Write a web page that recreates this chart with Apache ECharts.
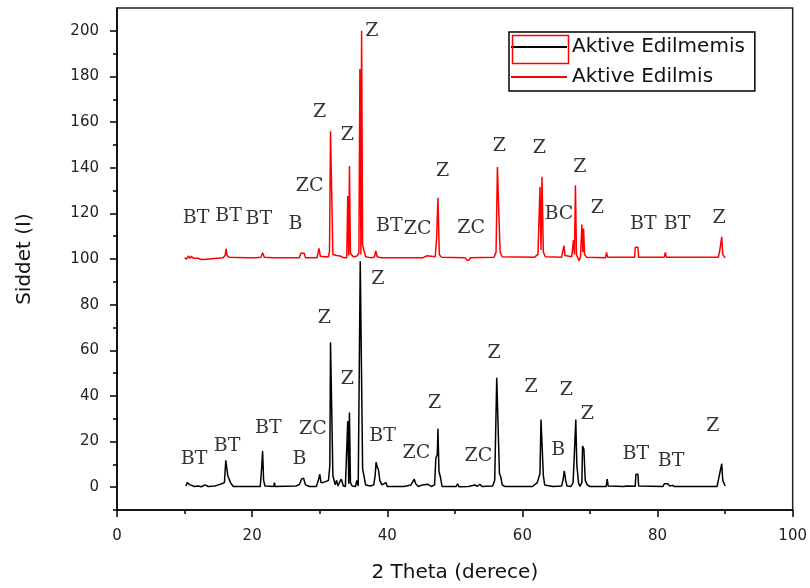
<!DOCTYPE html>
<html>
<head>
<meta charset="utf-8">
<script src="https://cdn.jsdelivr.net/npm/echarts@6/dist/echarts.min.js"></script>
<style>
html,body{margin:0;padding:0;background:#fff;}
#chart{width:810px;height:588px;}
</style>
</head>
<body>
<div id="chart"></div>
<script>
// ---- Data ----
const seriesNames = ['Aktive Edilmemis', 'Aktive Edilmis'];

// Black pattern (Aktive Edilmemis)
const blackTheta = [10.2,10.4,10.6,10.8,11.0,11.5,12.0,12.5,13.0,13.5,14.5,15.0,15.5,15.9,16.1,16.25,16.4,16.6,16.8,17.2,
  21.2,21.4,21.55,21.7,21.9,23.2,23.3,23.4,26.5,27.0,27.3,27.6,27.9,28.5,29.5,29.8,30.0,30.2,30.5,31.3,31.5,31.6,31.8,31.95,
  32.3,32.5,32.7,33.0,33.2,33.5,33.8,34.0,34.15,34.3,34.4,34.55,34.8,35.3,35.5,35.7,35.9,36.0,36.2,36.35,36.6,36.8,
  37.5,38.0,38.2,38.35,38.5,38.7,38.9,39.2,39.8,40.0,42.5,43.5,43.8,44.0,44.2,44.6,45.2,46.0,46.5,47.0,47.2,47.4,47.5,47.65,47.9,48.1,
  50.2,50.4,50.6,52.0,53.0,53.3,53.7,54.0,55.6,55.9,56.2,56.4,56.6,56.8,57.0,57.4,61.5,62.2,62.6,62.75,62.95,63.1,63.3,
  64.5,65.8,66.0,66.2,66.4,66.6,67.2,67.5,67.65,67.8,67.9,68.05,68.3,68.5,68.8,68.9,69.0,69.1,69.3,69.6,70.0,
  72.4,72.55,72.7,75.0,75.4,75.6,76.7,76.8,77.1,77.2,80.8,81.0,81.5,81.8,82.0,82.2,82.5,88.8,89.1,89.3,89.5,89.65,89.8,90.0];
const blackCounts = [0.5,2,2.5,1,1.2,0.3,0.5,0.2,1,0.3,0.5,1,1.5,2,11.8,11,5,5.5,2,0.3,
  0.3,8,15.9,3,0.5,0.3,2,0.3,0.5,1.2,3.5,4,1,0.3,0.3,3,5.7,2,2,3,9.6,63.5,63.5,5,
  1,3,0.5,2.5,3.5,0.5,0.3,1,29,1.5,32.7,2,0.5,0.3,3,0.5,1,99,99,8,8,1,
  0.5,1,5,11,9,7.5,3,1,2,0.3,0.3,1,2.5,3.5,1.5,0.3,1,1.3,0.3,1,13,14,25.6,7,4,0.3,
  0.3,1.5,0.2,0.3,1,0.3,1.3,0.3,0.5,3,48,48.2,6,4.5,1,0.3,0.3,2,6,29.7,29.7,5,1,
  0.3,0.5,3,7.1,3,0.5,0.3,2,11.8,11.8,29.7,10,2,0.3,2,18,17.5,16.6,3,1,0.3,
  0.3,3.5,0.5,0.3,0.5,0.3,0.4,5.7,5.7,0.5,0.3,1.5,1.5,0.5,0.4,0.8,0.3,0.3,4.5,4,10.3,3,2,0.5];

// Red pattern (Aktive Edilmis), offset by 100
const redTheta = [10.0,10.3,10.6,10.8,11.0,11.3,12.0,12.4,12.8,13.0,15.7,16.0,16.15,16.3,16.6,19.2,19.4,19.6,20.2,20.4,20.6,
  21.3,21.55,21.8,23.0,27.0,27.2,27.7,27.9,29.6,29.9,30.1,30.8,31.3,31.45,31.6,31.8,31.95,32.5,33.0,33.6,34.0,34.15,34.3,34.4,34.55,
  34.9,35.2,35.5,35.8,35.95,36.1,36.2,36.35,36.6,36.8,37.5,38.1,38.3,38.5,39.0,45.3,45.5,45.9,46.1,47.1,47.3,47.5,47.7,48.0,
  51.5,51.8,52.1,52.3,55.8,56.1,56.3,56.5,56.7,57.0,61.8,62.3,62.6,62.75,62.9,63.1,63.4,65.8,66.0,66.15,66.3,
  67.3,67.55,67.7,67.85,68.0,68.2,68.4,68.6,68.8,68.95,69.05,69.2,69.5,72.3,72.45,72.6,76.6,76.7,77.1,77.2,
  81.0,81.15,81.3,89.0,89.2,89.35,89.5,89.65,89.85,90.0];
const redCounts = [100.5,100,101.3,100.3,101.2,100.3,100.3,99.8,99.8,100.5,100.5,101.5,104.5,101.5,100.8,100.6,99.8,100.6,100.6,99.8,100.6,
  100.8,102.7,100.8,100.6,100.6,102.5,102.5,100.6,100.6,104.6,101.2,101,101,103.5,156,156,102,101.5,101.3,100.5,100.5,127.6,101.5,140.7,102.5,
  101.2,101,101.3,102.5,183.3,102,200,106,105.8,101,100.6,100.8,103.5,101,100.6,100.6,101.4,101.4,100.6,101,109,126.8,102,100.8,
  100.6,99.5,99.5,100.6,100.8,103,140.3,140.7,103,101,100.8,102,131.6,104,136,103,101,100.8,101.5,105.8,101.5,
  101,108.3,102,132.3,102,100.5,99.2,101,115.1,103,113.4,102,100.8,100.6,102.9,100.8,100.8,105.1,105.1,100.8,
  100.8,102.9,100.8,100.8,103.6,103.6,109.7,102,101.5,100.5];

// Phase annotations
const blackLabelText = ['BT','BT','BT','B','ZC','Z','Z','Z','BT','ZC','Z','ZC','Z','Z','Z','B','Z','BT','BT','Z'];
const blackLabelX    = [11.4,16.3,22.4,27.0,29.0,30.7,34.1,38.6,39.3,44.3,47.0,53.5,55.8,61.3,66.5,65.3,69.6,76.8,82.0,88.2];
const blackLabelY    = [12.2,18.1,26.0,12.4,25.3,74.0,47.4,91.0,22.5,15.1,36.9,13.8,58.7,43.9,42.6,16.4,32.1,14.4,11.6,26.9];

const redLabelText = ['BT','BT','BT','B','ZC','Z','Z','Z','BT','ZC','ZC','Z','Z','Z','BC','Z','Z','BT','BT','Z'];
const redLabelX    = [11.7,16.5,21.0,26.4,28.5,30.0,34.1,37.7,40.3,44.5,52.4,48.2,56.6,62.5,65.4,68.5,71.1,77.9,82.9,89.1];
const redLabelY    = [117.9,118.8,117.5,115.3,131.9,164.2,154.4,200.0,114.4,113.1,113.4,138.6,149.5,148.7,119.7,140.2,122.5,115.5,115.5,117.9];

const xTickLabels = [0, 20, 40, 60, 80, 100];
const yTickLabels = [0, 20, 40, 60, 80, 100, 120, 140, 160, 180, 200];
const yMinorTicks = [-10, 10, 30, 50, 70, 90, 110, 130, 150, 170, 190];

// ---- Build options ----
const zip = (a, b) => a.map((v, i) => [v, b[i]]);
const labelData = (t, x, y) => t.map((s, i) => ({ name: s, value: [x[i], y[i]] }));

const axisFont = { fontFamily: 'DejaVu Sans', fontSize: 15, color: '#222' };
const nameFont = { fontFamily: 'DejaVu Sans', fontSize: 20, color: '#111' };

const labelSeries = (name, data) => ({
  name: name, type: 'scatter', data: data, symbolSize: 0, silent: true, z: 5,
  label: { show: true, position: 'inside', formatter: p => p.name,
    fontFamily: 'DejaVu Serif', fontSize: 19, color: '#000' }
});

const chart = echarts.init(document.getElementById('chart'), null, { renderer: 'canvas' });
chart.setOption({
  animation: false,
  backgroundColor: '#fff',
  grid: { left: 117, right: 16, top: 8, bottom: 77, show: true, borderColor: '#222', borderWidth: 1.5, backgroundColor: 'transparent' },
  legend: {
    data: seriesNames, orient: 'vertical', left: 509, top: 32,
    itemWidth: 56, itemHeight: 14, itemGap: 10,
    padding: [5, 10, 4, 1], borderColor: '#000', borderWidth: 1.5,
    itemStyle: { color: 'transparent', borderWidth: 0, opacity: 0 },
    textStyle: { fontFamily: 'DejaVu Sans', fontSize: 20, color: '#111', lineHeight: 20 }
  },
  graphic: [{
    type: 'rect', left: 510, top: 33, z: 100, silent: true,
    shape: { width: 56, height: 28 }, style: { fill: 'none', stroke: '#ff0000', lineWidth: 1.5 }
  }],
  xAxis: {
    type: 'value', min: 0, max: 100, interval: 20,
    name: '2 Theta (derece)', nameLocation: 'middle', nameGap: 53, nameTextStyle: nameFont,
    axisLine: { onZero: false, lineStyle: { color: '#000', width: 1.5 } },
    axisTick: { length: 7, lineStyle: { color: '#000', width: 1.5 } },
    minorTick: { show: true, splitNumber: 2, length: 4, lineStyle: { color: '#000', width: 1.5 } },
    axisLabel: Object.assign({ margin: 19, formatter: v => xTickLabels.includes(v) ? String(v) : '' }, axisFont),
    splitLine: { show: false }
  },
  yAxis: [{
    type: 'value', min: -10, max: 210, position: 'left',
    name: 'Siddet (I)', nameLocation: 'middle', nameGap: 82, nameTextStyle: nameFont,
    axisLine: { show: true, onZero: false, lineStyle: { color: '#000', width: 1.5 } },
    axisTick: { show: true, customValues: yTickLabels, length: 7, lineStyle: { color: '#000', width: 1.5 } },
    axisLabel: Object.assign({ margin: 18, customValues: yTickLabels }, axisFont),
    splitLine: { show: false }
  }, {
    type: 'value', min: -10, max: 210, position: 'left',
    axisLine: { show: false, onZero: false },
    axisTick: { show: true, customValues: yMinorTicks, length: 4, lineStyle: { color: '#000', width: 1.5 } },
    axisLabel: { show: false },
    splitLine: { show: false }
  }],
  series: [
    { name: seriesNames[0], type: 'line', data: zip(blackTheta, blackCounts), showSymbol: false, symbol: 'none',
      lineStyle: { color: '#000', width: 1.5 }, itemStyle: { color: '#000' }, z: 3 },
    { name: seriesNames[1], type: 'line', data: zip(redTheta, redCounts), showSymbol: false, symbol: 'none',
      lineStyle: { color: '#ff0000', width: 1.5 }, itemStyle: { color: '#ff0000' }, z: 2 },
    labelSeries('blackLabels', labelData(blackLabelText, blackLabelX, blackLabelY)),
    labelSeries('redLabels', labelData(redLabelText, redLabelX, redLabelY))
  ]
});
</script>
</body>
</html>
